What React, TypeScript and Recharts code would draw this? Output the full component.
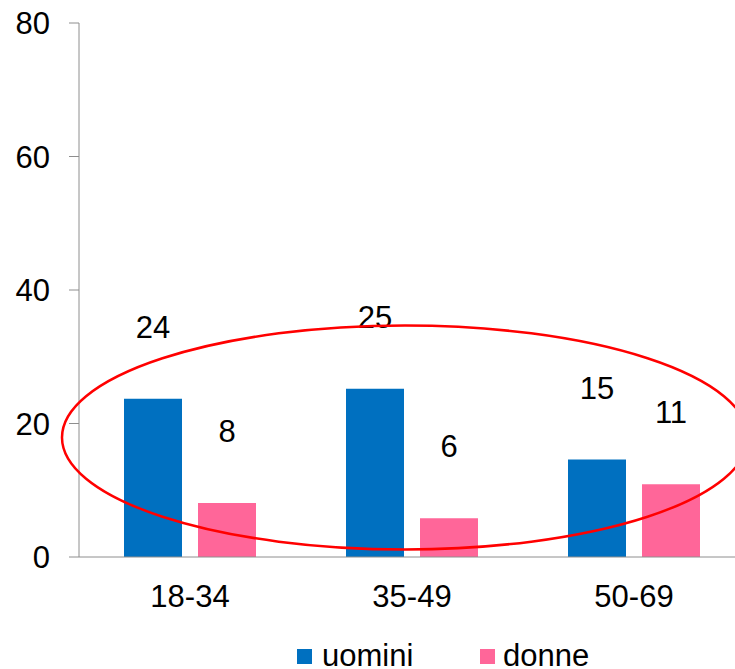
import { BarChart, Bar, XAxis, YAxis, LabelList } from "recharts";

const categories = ["18-34", "35-49", "50-69"];
const uomini = [23.7, 25.2, 14.6];
const donne = [8.1, 5.8, 10.9];
const seriesNames = ["uomini", "donne"];
const yTicks = [0, 20, 40, 60, 80];

const BLUE = "#0070C0";
const PINK = "#FF6699";
const AXIS = "#8e8e8e";
const FONT = "'Liberation Sans', Arial, sans-serif";

const data = categories.map((c, i) => ({ cat: c, uomini: uomini[i], donne: donne[i] }));

const ValueLabel = (props: any) => {
  const { x, y, width, value } = props;
  return (
    <text
      x={Number(x) + Number(width) / 2}
      y={Number(y) - 72 + 11}
      textAnchor="middle"
      fontSize={31}
      fontFamily={FONT}
      fill="#000"
    >
      {Math.round(Number(value))}
    </text>
  );
};

export default function App() {
  return (
    <div
      style={{
        position: "absolute",
        left: 0,
        top: 0,
        width: 735,
        height: 669,
        overflow: "hidden",
        background: "#fff",
        fontFamily: FONT,
      }}
    >
      <BarChart
        width={745}
        height={669}
        data={data}
        margin={{ top: 23, right: 0, left: 0, bottom: 52 }}
        barGap={16}
        barSize={58}
      >
        <YAxis
          width={79}
          domain={[0, 80]}
          ticks={yTicks}
          interval={0}
          tickSize={10}
          tickMargin={19}
          axisLine={{ stroke: AXIS }}
          tickLine={{ stroke: AXIS }}
          tick={{ fontSize: 31, fill: "#000", fontFamily: FONT }}
        />
        <XAxis
          dataKey="cat"
          height={60}
          tickSize={0}
          tickMargin={28}
          tickLine={false}
          axisLine={{ stroke: AXIS }}
          tick={{ fontSize: 31, fill: "#000", fontFamily: FONT }}
        />
        <Bar dataKey="uomini" name={seriesNames[0]} fill={BLUE} isAnimationActive={false}>
          <LabelList dataKey="uomini" content={ValueLabel} />
        </Bar>
        <Bar dataKey="donne" name={seriesNames[1]} fill={PINK} isAnimationActive={false}>
          <LabelList dataKey="donne" content={ValueLabel} />
        </Bar>
      </BarChart>
      <svg
        width={735}
        height={669}
        style={{ position: "absolute", left: 0, top: 0, pointerEvents: "none" }}
      >
        {/* hand-drawn highlight */}
        <ellipse cx={405} cy={437.5} rx={343} ry={112} fill="none" stroke="#FF0000" strokeWidth={2.5} />
        {/* legend */}
        <rect x={297} y={649} width={15} height={15} fill={BLUE} />
        <text x={322} y={666} fontSize={31} fontFamily={FONT} fill="#000">
          {seriesNames[0]}
        </text>
        <rect x={480} y={649} width={15} height={15} fill={PINK} />
        <text x={503} y={666} fontSize={31} fontFamily={FONT} fill="#000">
          {seriesNames[1]}
        </text>
      </svg>
    </div>
  );
}
